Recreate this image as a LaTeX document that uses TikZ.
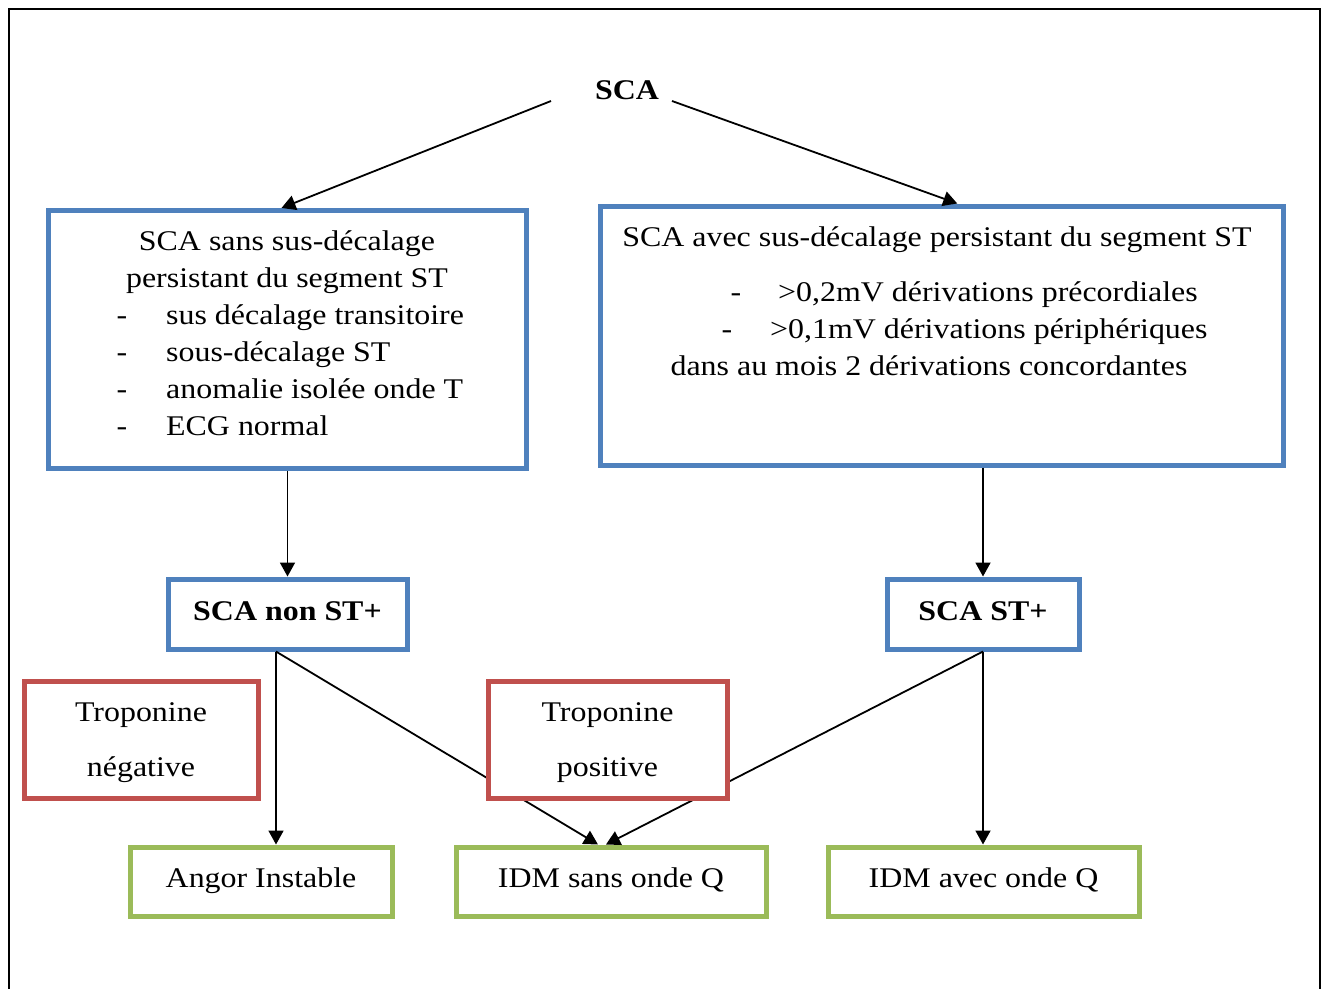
\documentclass[tikz,border=0pt]{standalone}
\usepackage{fontspec}
\setmainfont{Liberation Serif}[FakeStretch=1.12]
\usetikzlibrary{arrows.meta}
\definecolor{boxblue}{HTML}{4F81BD}
\definecolor{boxred}{HTML}{C0504D}
\definecolor{boxgreen}{HTML}{9BBB59}
\begin{document}
\begin{tikzpicture}[x=1pt,y=-1pt,
  every node/.style={font=\fontsize{28.5}{34}\selectfont},
  card/.style={draw, line width=5pt, fill=white, inner sep=0pt},
  bluecard/.style={card, draw=boxblue},
  redcard/.style={card, draw=boxred},
  greencard/.style={card, draw=boxgreen},
  txt/.style={anchor=base, inner sep=0pt},
  ltxt/.style={anchor=base west, inner sep=0pt},
  arr/.style={line width=1.8pt, -{Triangle[length=14pt,width=15pt]}},
  link/.style={line width=1.8pt}]
\useasboundingbox (0,0) rectangle (1325,988);
\draw[line width=2pt] (9,9) rectangle (1320,1010);

% top label
\node[txt, font=\fontsize{28.5}{34}\selectfont\bfseries] (sca) at (627,99) {SCA};
\coordinate (scaL) at (551,101);
\coordinate (scaR) at (672,101);

% first level boxes
\node[bluecard, minimum width=478pt, minimum height=258pt] (b1) at (287.5,339.5) {};
\node[bluecard, minimum width=682.5pt, minimum height=259pt] (b2) at (941.75,335.5) {};

\node[txt] (b1l1) at (287,250) {SCA sans sus-décalage};
\node[txt] (b1l2) at (287,287) {persistant du segment ST};
\node[txt] (b1d1) at (122,324) {-};
\node[txt] (b1d2) at (122,361) {-};
\node[txt] (b1d3) at (122,398) {-};
\node[txt] (b1d4) at (122,435) {-};
\node[ltxt] (b1i1) at (166,324) {sus décalage transitoire};
\node[ltxt] (b1i2) at (166,361) {sous-décalage ST};
\node[ltxt] (b1i3) at (166,398) {anomalie isolée onde T};
\node[ltxt] (b1i4) at (166,435) {ECG normal};

\node[txt] (b2l1) at (937,246) {SCA avec sus-décalage persistant du segment ST};
\node[txt] (b2d1) at (736,301) {-};
\node[txt] (b2d2) at (727,338) {-};
\node[ltxt] (b2i1) at (778,301) {>0,2mV dérivations précordiales};
\node[ltxt] (b2i2) at (770,338) {>0,1mV dérivations périphériques};
\node[txt] (b2l2) at (929,375) {dans au mois 2 dérivations concordantes};

% second level
\node[bluecard, minimum width=239pt, minimum height=70pt] (nst) at (287.5,614) {};
\node[bluecard, minimum width=192pt, minimum height=70pt] (st) at (983,614) {};
\node[txt, font=\fontsize{28.5}{34}\selectfont\bfseries] (nstt) at (287.5,620) {SCA non ST+};
\node[txt, font=\fontsize{28.5}{34}\selectfont\bfseries] (stt) at (983,620) {SCA ST+};

% bottom boxes
\node[greencard, minimum width=262pt, minimum height=69pt] (ai) at (261,881.5) {};
\node[greencard, minimum width=310pt, minimum height=69pt] (i1) at (611,881.5) {};
\node[greencard, minimum width=311pt, minimum height=69pt] (i2) at (983.5,881.5) {};
\node[txt] (ait) at (261,887) {Angor Instable};
\node[txt] (i1t) at (611,887) {IDM sans onde Q};
\node[txt] (i2t) at (983.5,887) {IDM avec onde Q};

% connectors
\draw[arr] (scaL) -- ([xshift=-6pt]b1.north);
\draw[arr] (scaR) -- ([xshift=15.5pt]b2.north);
\draw[arr] (b1.south) -- (nst.north);
\draw[arr] (b2.south -| st.north) -- (st.north);
\coordinate (p1) at ([xshift=-11.5pt]nst.south);
\draw[arr] (p1) -- (p1 |- ai.north);
\draw[arr] (p1) -- ([xshift=-13pt]i1.north);
\draw[arr] (st.south) -- ([xshift=-5pt]i1.north);
\draw[arr] (st.south) -- (st.south |- i2.north);

% troponin boxes drawn over the diagonals
\node[redcard, minimum width=234pt, minimum height=117pt] (tn) at (141,739.5) {};
\node[redcard, minimum width=239pt, minimum height=117pt] (tp) at (607.5,739.5) {};
\node[txt] (tn1) at (141,721) {Troponine};
\node[txt] (tn2) at (141,776) {négative};
\node[txt] (tp1) at (607.5,721) {Troponine};
\node[txt] (tp2) at (607.5,776) {positive};
\end{tikzpicture}
\end{document}
